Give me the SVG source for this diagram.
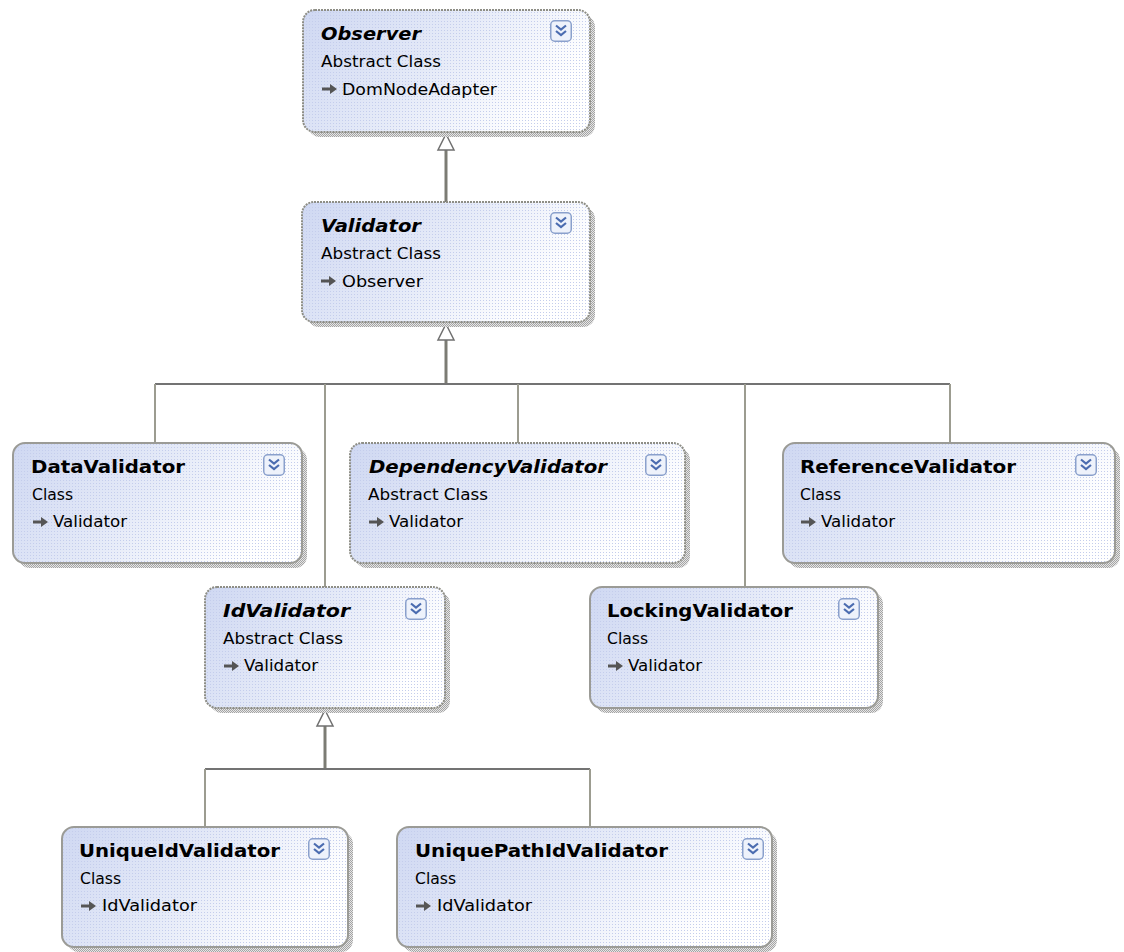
<svg xmlns="http://www.w3.org/2000/svg" xmlns:xlink="http://www.w3.org/1999/xlink" width="1124" height="952" viewBox="0 0 1124 952">
  <style>
    .shadow { fill: url(#shadowDither); }
    .body { fill: url(#bodyGrad); }
    .dots { fill: url(#dotPattern); }
    .concrete { fill: none; stroke: #9b9b96; stroke-width: 2; }
    .abstract { fill: none; stroke: #8e8e86; stroke-width: 2; stroke-dasharray: 2 1; }
    .title { font-family: "DejaVu Sans", "Liberation Sans", sans-serif; font-weight: bold; font-size: 17px; fill: #000; }
    .title.ital { font-style: italic; }
    .sub { font-family: "DejaVu Sans", "Liberation Sans", sans-serif; font-size: 15.5px; fill: #000; }
    .bus { fill: none; stroke: #737373; stroke-width: 2; }
    .drop { fill: none; stroke: #9c9c90; stroke-width: 2; }
    .stem { fill: none; stroke: #7c7c74; stroke-width: 3; }
    .tri { fill: #fff; stroke: #707070; stroke-width: 1.5; stroke-linejoin: miter; }
  </style>
  <defs>
    <linearGradient id="bodyGrad" x1="0" y1="0" x2="1" y2="0.35">
      <stop offset="0" stop-color="#cfd8f2"/>
      <stop offset="0.55" stop-color="#e6ebf8"/>
      <stop offset="1" stop-color="#ffffff"/>
    </linearGradient>
    <pattern id="dotPattern" width="3" height="3" patternUnits="userSpaceOnUse">
      <rect x="0" y="0" width="1" height="1" fill="#c4cdec"/>
    </pattern>
    <pattern id="shadowDither" width="2" height="2" patternUnits="userSpaceOnUse">
      <rect width="2" height="2" fill="#e6e6e6"/>
      <rect x="0" y="0" width="1" height="1" fill="#a4a4a4"/>
      <rect x="1" y="1" width="1" height="1" fill="#a4a4a4"/>
    </pattern>
    <!-- collapse/expand toggle -->
    <g id="toggle">
      <rect x="0.75" y="0.75" width="20.5" height="20.5" rx="4" fill="#eef2fb" stroke="#8aa0cc" stroke-width="1.5"/>
      <path d="M6 5.5 L11 9.5 L16 5.5 M6 11 L11 15 L16 11" fill="none" stroke="#4b6cb0" stroke-width="2.2"/>
    </g>
    <!-- base-type marker -->
    <g id="inherits">
      <path d="M0 0 H9" stroke="#555" stroke-width="3"/>
      <path d="M8 -5 L15 0 L8 5 Z" fill="#555"/>
    </g>
  </defs>

  <!-- inheritance connectors -->
  <g id="connectors">
    <path class="stem" d="M446 202 V150"/>
    <path class="tri" d="M446 134 L454 150 L438 150 Z"/>

    <path class="stem" d="M446 384 V340"/>
    <path class="tri" d="M446 324 L454 340 L438 340 Z"/>
    <path class="bus" d="M155 384 H950"/>
    <path class="drop" d="M155 384 V443"/>
    <path class="drop" d="M325 384 V587"/>
    <path class="drop" d="M518 384 V443"/>
    <path class="drop" d="M745 384 V587"/>
    <path class="drop" d="M950 384 V443"/>

    <path class="stem" d="M325 769 V726"/>
    <path class="tri" d="M325 710 L333 726 L317 726 Z"/>
    <path class="bus" d="M205 769 H590"/>
    <path class="drop" d="M205 769 V827"/>
    <path class="drop" d="M590 769 V827"/>
  </g>

  <g id="Observer">
    <rect class="shadow" x="308" y="15" width="287" height="122" rx="12"/>
    <rect class="body" x="303" y="10" width="287" height="122" rx="12"/>
    <rect class="dots" x="303" y="10" width="287" height="122" rx="12"/>
    <rect class="abstract" x="303" y="10" width="287" height="122" rx="12"/>
    <use href="#toggle" x="550" y="20"/>
    <text class="title ital" x="321" y="40" textLength="100" lengthAdjust="spacingAndGlyphs">Observer</text>
    <text class="sub" x="321" y="67" textLength="120" lengthAdjust="spacingAndGlyphs">Abstract Class</text>
    <use href="#inherits" x="322" y="89"/>
    <text class="sub" x="342" y="95" textLength="155" lengthAdjust="spacingAndGlyphs">DomNodeAdapter</text>
  </g>

  <g id="Validator">
    <rect class="shadow" x="307" y="207" width="288" height="120" rx="12"/>
    <rect class="body" x="302" y="202" width="288" height="120" rx="12"/>
    <rect class="dots" x="302" y="202" width="288" height="120" rx="12"/>
    <rect class="abstract" x="302" y="202" width="288" height="120" rx="12"/>
    <use href="#toggle" x="550" y="212"/>
    <text class="title ital" x="321" y="232" textLength="100" lengthAdjust="spacingAndGlyphs">Validator</text>
    <text class="sub" x="321" y="259" textLength="120" lengthAdjust="spacingAndGlyphs">Abstract Class</text>
    <use href="#inherits" x="321" y="281"/>
    <text class="sub" x="342" y="287" textLength="81" lengthAdjust="spacingAndGlyphs">Observer</text>
  </g>

  <g id="DataValidator">
    <rect class="shadow" x="18" y="448" width="289" height="120" rx="12"/>
    <rect class="body" x="13" y="443" width="289" height="120" rx="12"/>
    <rect class="dots" x="13" y="443" width="289" height="120" rx="12"/>
    <rect class="concrete" x="13" y="443" width="289" height="120" rx="12"/>
    <use href="#toggle" x="263" y="454"/>
    <text class="title" x="31" y="473" textLength="154" lengthAdjust="spacingAndGlyphs">DataValidator</text>
    <text class="sub" x="32" y="500" textLength="41" lengthAdjust="spacingAndGlyphs">Class</text>
    <use href="#inherits" x="33" y="522"/>
    <text class="sub" x="53" y="527" textLength="74" lengthAdjust="spacingAndGlyphs">Validator</text>
  </g>

  <g id="DependencyValidator">
    <rect class="shadow" x="355" y="448" width="335" height="120" rx="12"/>
    <rect class="body" x="350" y="443" width="335" height="120" rx="12"/>
    <rect class="dots" x="350" y="443" width="335" height="120" rx="12"/>
    <rect class="abstract" x="350" y="443" width="335" height="120" rx="12"/>
    <use href="#toggle" x="645" y="454"/>
    <text class="title ital" x="369" y="473" textLength="238" lengthAdjust="spacingAndGlyphs">DependencyValidator</text>
    <text class="sub" x="368" y="500" textLength="120" lengthAdjust="spacingAndGlyphs">Abstract Class</text>
    <use href="#inherits" x="369" y="522"/>
    <text class="sub" x="389" y="527" textLength="74" lengthAdjust="spacingAndGlyphs">Validator</text>
  </g>

  <g id="ReferenceValidator">
    <rect class="shadow" x="788" y="448" width="332" height="120" rx="12"/>
    <rect class="body" x="783" y="443" width="332" height="120" rx="12"/>
    <rect class="dots" x="783" y="443" width="332" height="120" rx="12"/>
    <rect class="concrete" x="783" y="443" width="332" height="120" rx="12"/>
    <use href="#toggle" x="1075" y="454"/>
    <text class="title" x="800" y="473" textLength="216" lengthAdjust="spacingAndGlyphs">ReferenceValidator</text>
    <text class="sub" x="800" y="500" textLength="41" lengthAdjust="spacingAndGlyphs">Class</text>
    <use href="#inherits" x="801" y="522"/>
    <text class="sub" x="821" y="527" textLength="74" lengthAdjust="spacingAndGlyphs">Validator</text>
  </g>

  <g id="IdValidator">
    <rect class="shadow" x="210" y="592" width="240" height="121" rx="12"/>
    <rect class="body" x="205" y="587" width="240" height="121" rx="12"/>
    <rect class="dots" x="205" y="587" width="240" height="121" rx="12"/>
    <rect class="abstract" x="205" y="587" width="240" height="121" rx="12"/>
    <use href="#toggle" x="405" y="598"/>
    <text class="title ital" x="223" y="617" textLength="127" lengthAdjust="spacingAndGlyphs">IdValidator</text>
    <text class="sub" x="223" y="644" textLength="120" lengthAdjust="spacingAndGlyphs">Abstract Class</text>
    <use href="#inherits" x="224" y="666"/>
    <text class="sub" x="244" y="671" textLength="74" lengthAdjust="spacingAndGlyphs">Validator</text>
  </g>

  <g id="LockingValidator">
    <rect class="shadow" x="595" y="592" width="288" height="121" rx="12"/>
    <rect class="body" x="590" y="587" width="288" height="121" rx="12"/>
    <rect class="dots" x="590" y="587" width="288" height="121" rx="12"/>
    <rect class="concrete" x="590" y="587" width="288" height="121" rx="12"/>
    <use href="#toggle" x="838" y="598"/>
    <text class="title" x="607" y="617" textLength="186" lengthAdjust="spacingAndGlyphs">LockingValidator</text>
    <text class="sub" x="607" y="644" textLength="41" lengthAdjust="spacingAndGlyphs">Class</text>
    <use href="#inherits" x="608" y="666"/>
    <text class="sub" x="628" y="671" textLength="74" lengthAdjust="spacingAndGlyphs">Validator</text>
  </g>

  <g id="UniqueIdValidator">
    <rect class="shadow" x="67" y="832" width="286" height="120" rx="12"/>
    <rect class="body" x="62" y="827" width="286" height="120" rx="12"/>
    <rect class="dots" x="62" y="827" width="286" height="120" rx="12"/>
    <rect class="concrete" x="62" y="827" width="286" height="120" rx="12"/>
    <use href="#toggle" x="308" y="838"/>
    <text class="title" x="79" y="857" textLength="201" lengthAdjust="spacingAndGlyphs">UniqueIdValidator</text>
    <text class="sub" x="80" y="884" textLength="41" lengthAdjust="spacingAndGlyphs">Class</text>
    <use href="#inherits" x="81" y="906"/>
    <text class="sub" x="102" y="911" textLength="95" lengthAdjust="spacingAndGlyphs">IdValidator</text>
  </g>

  <g id="UniquePathIdValidator">
    <rect class="shadow" x="402" y="832" width="375" height="120" rx="12"/>
    <rect class="body" x="397" y="827" width="375" height="120" rx="12"/>
    <rect class="dots" x="397" y="827" width="375" height="120" rx="12"/>
    <rect class="concrete" x="397" y="827" width="375" height="120" rx="12"/>
    <use href="#toggle" x="742" y="838"/>
    <text class="title" x="415" y="857" textLength="253" lengthAdjust="spacingAndGlyphs">UniquePathIdValidator</text>
    <text class="sub" x="415" y="884" textLength="41" lengthAdjust="spacingAndGlyphs">Class</text>
    <use href="#inherits" x="416" y="906"/>
    <text class="sub" x="437" y="911" textLength="95" lengthAdjust="spacingAndGlyphs">IdValidator</text>
  </g>
</svg>
